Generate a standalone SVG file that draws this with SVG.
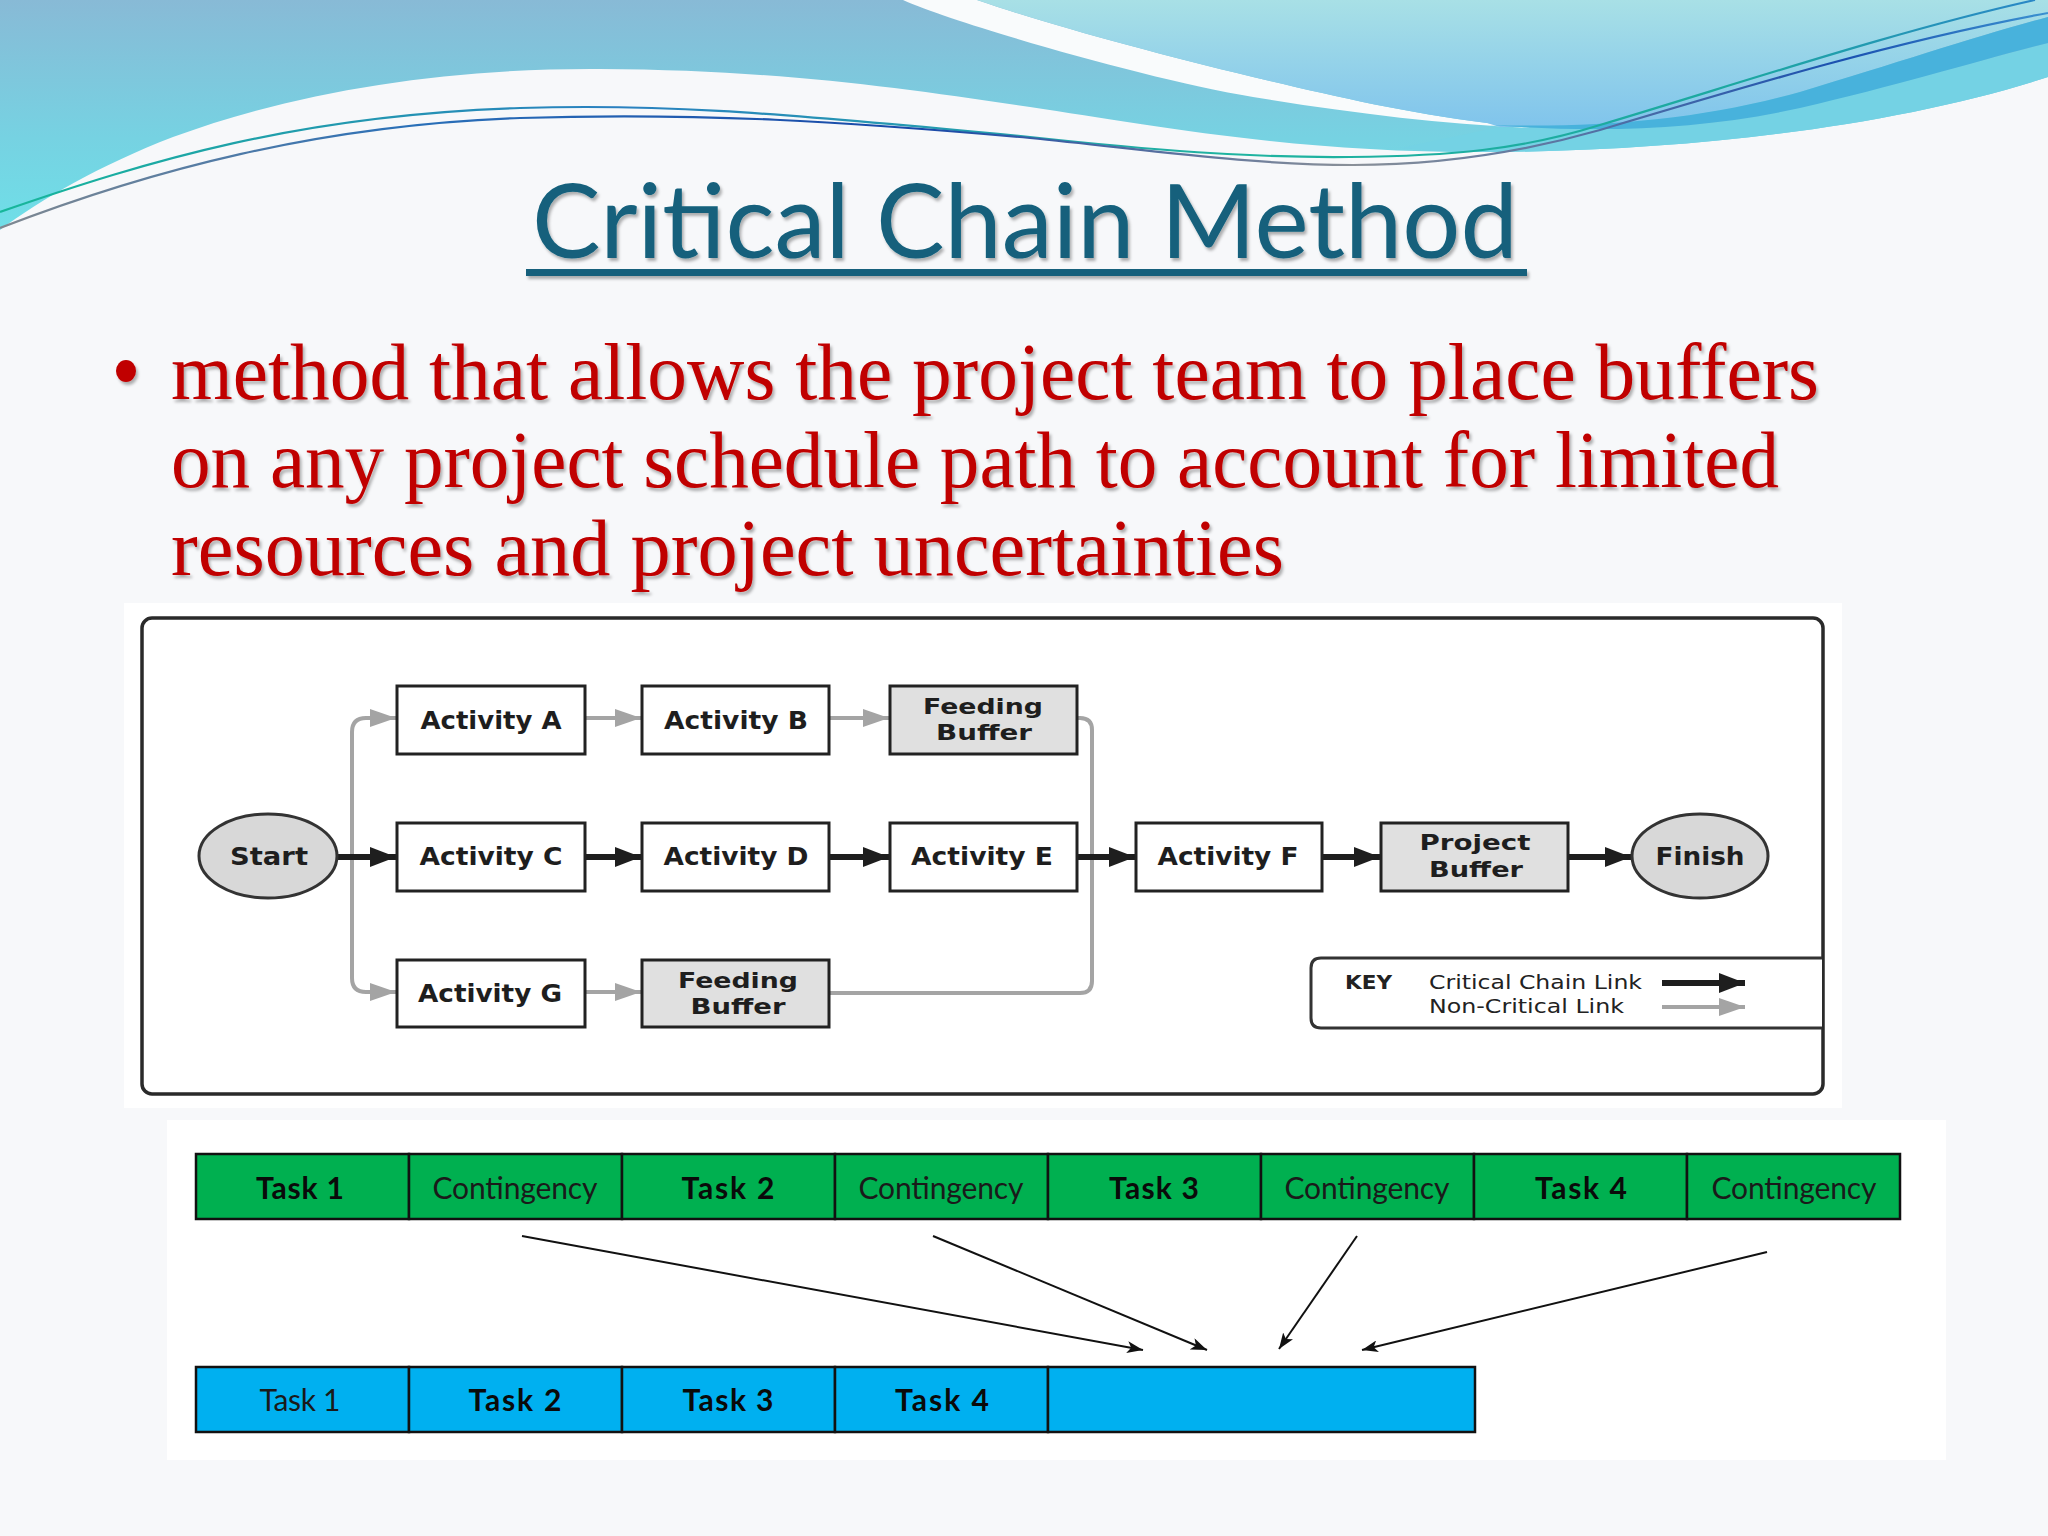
<svg xmlns="http://www.w3.org/2000/svg" width="2048" height="1536" viewBox="0 0 2048 1536">
<defs>
<linearGradient id="gBlue" x1="0" y1="0" x2="0" y2="1">
<stop offset="0" stop-color="#88bad6"/><stop offset="0.6" stop-color="#76d2e2"/><stop offset="1" stop-color="#6fdfe8"/>
</linearGradient>
<linearGradient id="gLight" x1="0" y1="0" x2="0" y2="1">
<stop offset="0" stop-color="#a8e0e6"/><stop offset="1" stop-color="#80c4ec"/>
</linearGradient>
<linearGradient id="gLine1" x1="0" y1="0" x2="2048" y2="0" gradientUnits="userSpaceOnUse">
<stop offset="0" stop-color="#17b79a"/><stop offset="0.3" stop-color="#2a80c0"/><stop offset="0.6" stop-color="#1fb4a0"/><stop offset="0.85" stop-color="#1ca8a0"/><stop offset="1" stop-color="#2a86c8"/>
</linearGradient>
<linearGradient id="gLine2" x1="0" y1="0" x2="2048" y2="0" gradientUnits="userSpaceOnUse">
<stop offset="0" stop-color="#808890"/><stop offset="0.2" stop-color="#2a70b8"/><stop offset="0.45" stop-color="#1848a8"/><stop offset="0.66" stop-color="#8a9098"/><stop offset="0.9" stop-color="#1a50b0"/><stop offset="1" stop-color="#3a90d0"/>
</linearGradient>
<filter id="shadow" x="-5%" y="-20%" width="110%" height="140%">
<feDropShadow dx="2" dy="3" stdDeviation="1.5" flood-color="#000" flood-opacity="0.3"/>
</filter>
<marker id="arrBlack" markerUnits="userSpaceOnUse" markerWidth="26" markerHeight="20" refX="26" refY="10" orient="auto">
<path d="M0,0 L26,10 L0,20 Z" fill="#1e1e1e"/>
</marker>
<marker id="arrGray" markerUnits="userSpaceOnUse" markerWidth="26" markerHeight="18" refX="26" refY="9" orient="auto">
<path d="M0,0 L26,9 L0,18 Z" fill="#a4a4a4"/>
</marker>
<marker id="arrThin" markerUnits="userSpaceOnUse" markerWidth="16" markerHeight="12" refX="16" refY="6" orient="auto">
<path d="M0,0 L16,6 L0,12 L4,6 Z" fill="#111"/>
</marker>
<style>
.box{fill:#ffffff;stroke:#222;stroke-width:3}
.buf{fill:#e0e0e0;stroke:#222;stroke-width:3}
.oval{fill:#d8d8d8;stroke:#333;stroke-width:3}
.nt{font-family:"DejaVu Sans","Liberation Sans",sans-serif;font-weight:bold;font-size:25px;fill:#1e1e1e;text-anchor:middle}
.nt2{font-family:"DejaVu Sans","Liberation Sans",sans-serif;font-weight:bold;font-size:21px;fill:#1e1e1e;text-anchor:middle}
.kt{font-family:"DejaVu Sans","Liberation Sans",sans-serif;font-size:20px;fill:#222}
.crit{fill:none;stroke:#1e1e1e;stroke-width:6;marker-end:url(#arrBlack)}
.non{fill:none;stroke:#a4a4a4;stroke-width:4;marker-end:url(#arrGray)}
.nonl{fill:none;stroke:#a4a4a4;stroke-width:4}
.thin{fill:none;stroke:#111;stroke-width:2;marker-end:url(#arrThin)}
.cellG{fill:#00b050;stroke:#111;stroke-width:2.5}
.cellB{fill:#00b0f0;stroke:#111;stroke-width:2.5}
.tb{font-family:Lato,"Liberation Sans",sans-serif;font-weight:bold;font-size:30px;fill:#0a0a0a;text-anchor:middle}
.tr{font-family:Lato,"Liberation Sans",sans-serif;font-size:30px;fill:#1a1a1a;text-anchor:middle}
</style>
</defs>

<!-- background -->
<rect x="0" y="0" width="2048" height="1536" fill="#f7f8fa"/>
<path d="M0,0 H2048 V77 C1900,125 1700,150 1500,152 C1300,154 1150,125 1030,107 C900,88 780,70 600,69 C450,68 300,90 173,137 C100,165 40,200 0,230 Z" fill="url(#gBlue)"/>
<path d="M1500,127 C1600,131 1700,130 1780,112 C1880,90 1980,60 2048,43 V77 C1900,125 1700,150 1500,152 C1450,152 1420,150 1400,148 Z" fill="#74d2e4"/>
<path d="M903,0 H977 C1050,25 1150,52 1253,77 C1330,95 1400,112 1487,123 L1530,128 C1440,124 1350,113 1253,97 C1150,80 960,25 903,0 Z" fill="#f9fbfc"/>
<path d="M977,0 H2048 V17 C1980,35 1900,62 1800,92 C1700,120 1600,128 1500,127 L1487,123 C1400,112 1330,95 1253,77 C1150,52 1050,25 977,0 Z" fill="url(#gLight)"/>
<path d="M1490,125 C1600,128 1700,120 1800,92 C1900,62 1980,35 2048,17 V43 C1980,60 1900,85 1800,108 C1700,130 1600,133 1490,125 Z" fill="#48b2dc"/>
<path d="M0,212 C150,160 300,115 520,108 C650,104 750,110 1030,137 C1150,150 1250,158 1350,157 C1450,156 1520,150 1600,125 C1750,80 1900,30 2035,0" fill="none" stroke="url(#gLine1)" stroke-width="2.2"/>
<path d="M0,228 C150,170 320,125 520,118 C700,112 850,122 1030,138 C1150,150 1250,165 1353,165 C1450,165 1530,150 1600,130 C1750,85 1900,40 2048,13" fill="none" stroke="url(#gLine2)" stroke-width="2.2"/>

<!-- title -->
<g id="title" filter="url(#shadow)">
<text x="532" y="258" font-family="Lato,'Open Sans','Liberation Sans',sans-serif" font-size="102" fill="#13607c" textLength="986" lengthAdjust="spacingAndGlyphs">Critical Chain Method</text>
<rect x="526" y="269" width="1001" height="7" fill="#13607c"/>
</g>

<!-- bullet -->
<g id="bullet" filter="url(#shadow)" font-family="'Liberation Serif','DejaVu Serif',serif" font-size="80" fill="#c00000">
<ellipse cx="126" cy="371" rx="10" ry="11" fill="#c00000"/>
<text x="171" y="399" textLength="1648" lengthAdjust="spacingAndGlyphs">method that allows the project team to place buffers</text>
<text x="171" y="487" textLength="1608" lengthAdjust="spacingAndGlyphs">on any project schedule path to account for limited</text>
<text x="171" y="575" textLength="1113" lengthAdjust="spacingAndGlyphs">resources and project uncertainties</text>
</g>

<!-- network diagram image -->
<rect x="124" y="603" width="1718" height="505" fill="#ffffff"/>
<rect id="frame" x="142" y="618" width="1681" height="476" rx="10" fill="#ffffff" stroke="#2a2a2a" stroke-width="3.5"/>

<g id="connectors">
<path class="nonl" d="M352,856 V732 Q352,718 366,718 H370"/>
<path class="non" d="M366,718 H396"/>
<path class="nonl" d="M352,856 V978 Q352,992 366,992 H370"/>
<path class="non" d="M366,992 H396"/>
<path class="non" d="M585,718 H641"/>
<path class="non" d="M829,718 H889"/>
<path class="non" d="M585,992 H641"/>
<path class="nonl" d="M1077,718 H1080 Q1092,718 1092,730 V981 Q1092,993 1080,993 H829"/>
<path class="crit" d="M338,857 H396"/>
<path class="crit" d="M585,857 H641"/>
<path class="crit" d="M829,857 H889"/>
<path class="crit" d="M1077,857 H1135"/>
<path class="crit" d="M1322,857 H1380"/>
<path class="crit" d="M1568,857 H1631"/>
</g>

<g id="node-start"><ellipse class="oval" cx="268" cy="856" rx="69" ry="42"/><text class="nt" x="269" y="865" textLength="78" lengthAdjust="spacingAndGlyphs">Start</text></g>
<g id="node-activity-a"><rect class="box" x="397" y="686" width="188" height="68"/><text class="nt" x="491" y="729" textLength="141" lengthAdjust="spacingAndGlyphs">Activity A</text></g>
<g id="node-activity-b"><rect class="box" x="642" y="686" width="187" height="68"/><text class="nt" x="736" y="729" textLength="144" lengthAdjust="spacingAndGlyphs">Activity B</text></g>
<g id="node-feeding-buffer-1"><rect class="buf" x="890" y="686" width="187" height="68"/><text class="nt2" x="983" y="714" textLength="120" lengthAdjust="spacingAndGlyphs">Feeding</text><text class="nt2" x="984" y="740" textLength="96" lengthAdjust="spacingAndGlyphs">Buffer</text></g>
<g id="node-activity-c"><rect class="box" x="397" y="823" width="188" height="68"/><text class="nt" x="491" y="865" textLength="143" lengthAdjust="spacingAndGlyphs">Activity C</text></g>
<g id="node-activity-d"><rect class="box" x="642" y="823" width="187" height="68"/><text class="nt" x="736" y="865" textLength="145" lengthAdjust="spacingAndGlyphs">Activity D</text></g>
<g id="node-activity-e"><rect class="box" x="890" y="823" width="187" height="68"/><text class="nt" x="982" y="865" textLength="142" lengthAdjust="spacingAndGlyphs">Activity E</text></g>
<g id="node-activity-f"><rect class="box" x="1136" y="823" width="186" height="68"/><text class="nt" x="1228" y="865" textLength="141" lengthAdjust="spacingAndGlyphs">Activity F</text></g>
<g id="node-project-buffer"><rect class="buf" x="1381" y="823" width="187" height="68"/><text class="nt2" x="1475" y="850" textLength="111" lengthAdjust="spacingAndGlyphs">Project</text><text class="nt2" x="1476" y="877" textLength="94" lengthAdjust="spacingAndGlyphs">Buffer</text></g>
<g id="node-finish"><ellipse class="oval" cx="1700" cy="856" rx="68" ry="42"/><text class="nt" x="1700" y="865" textLength="89" lengthAdjust="spacingAndGlyphs">Finish</text></g>
<g id="node-activity-g"><rect class="box" x="397" y="960" width="188" height="67"/><text class="nt" x="490" y="1002" textLength="144" lengthAdjust="spacingAndGlyphs">Activity G</text></g>
<g id="node-feeding-buffer-2"><rect class="buf" x="642" y="960" width="187" height="67"/><text class="nt2" x="738" y="988" textLength="120" lengthAdjust="spacingAndGlyphs">Feeding</text><text class="nt2" x="738" y="1014" textLength="95" lengthAdjust="spacingAndGlyphs">Buffer</text></g>

<g id="key">
<path d="M1822,958 H1321 Q1311,958 1311,968 V1018 Q1311,1028 1321,1028 H1822" fill="#ffffff" stroke="#333" stroke-width="3"/>
<text class="kt" x="1345" y="989" font-weight="bold" textLength="47" lengthAdjust="spacingAndGlyphs">KEY</text>
<text class="kt" x="1429" y="989" textLength="213" lengthAdjust="spacingAndGlyphs">Critical Chain Link</text>
<text class="kt" x="1429" y="1013" textLength="195" lengthAdjust="spacingAndGlyphs">Non-Critical Link</text>
<path class="crit" d="M1662,983 H1745"/>
<path class="non" d="M1662,1007 H1745"/>
</g>

<!-- task bars image -->
<rect x="167" y="1120" width="1779" height="340" fill="#ffffff"/>
<g id="bar-green">
<rect class="cellG" x="196" y="1154" width="213" height="65"/>
<rect class="cellG" x="409" y="1154" width="213" height="65"/>
<rect class="cellG" x="622" y="1154" width="213" height="65"/>
<rect class="cellG" x="835" y="1154" width="213" height="65"/>
<rect class="cellG" x="1048" y="1154" width="213" height="65"/>
<rect class="cellG" x="1261" y="1154" width="213" height="65"/>
<rect class="cellG" x="1474" y="1154" width="213" height="65"/>
<rect class="cellG" x="1687" y="1154" width="213" height="65"/>
<text class="tb" x="300" y="1199" textLength="88">Task 1</text>
<text class="tr" x="515" y="1199" textLength="165">Contingency</text>
<text class="tb" x="728" y="1199" textLength="93">Task 2</text>
<text class="tr" x="941" y="1199" textLength="165">Contingency</text>
<text class="tb" x="1154" y="1199" textLength="90">Task 3</text>
<text class="tr" x="1367" y="1199" textLength="165">Contingency</text>
<text class="tb" x="1581" y="1199" textLength="92">Task 4</text>
<text class="tr" x="1794" y="1199" textLength="165">Contingency</text>
</g>
<g id="bar-blue">
<rect class="cellB" x="196" y="1367" width="213" height="65"/>
<rect class="cellB" x="409" y="1367" width="213" height="65"/>
<rect class="cellB" x="622" y="1367" width="213" height="65"/>
<rect class="cellB" x="835" y="1367" width="213" height="65"/>
<rect class="cellB" x="1048" y="1367" width="427" height="65"/>
<text class="tr" x="300" y="1411" textLength="81" fill="#12303f">Task 1</text>
<text class="tb" x="515" y="1411" textLength="93">Task 2</text>
<text class="tb" x="728" y="1411" textLength="91">Task 3</text>
<text class="tb" x="942" y="1411" textLength="94">Task 4</text>
</g>
<g id="bar-connectors">
<path class="thin" d="M522,1236 L1143,1350"/>
<path class="thin" d="M933,1236 L1207,1350"/>
<path class="thin" d="M1357,1236 L1279,1349"/>
<path class="thin" d="M1767,1252 L1362,1350"/>
</g>
</svg>
